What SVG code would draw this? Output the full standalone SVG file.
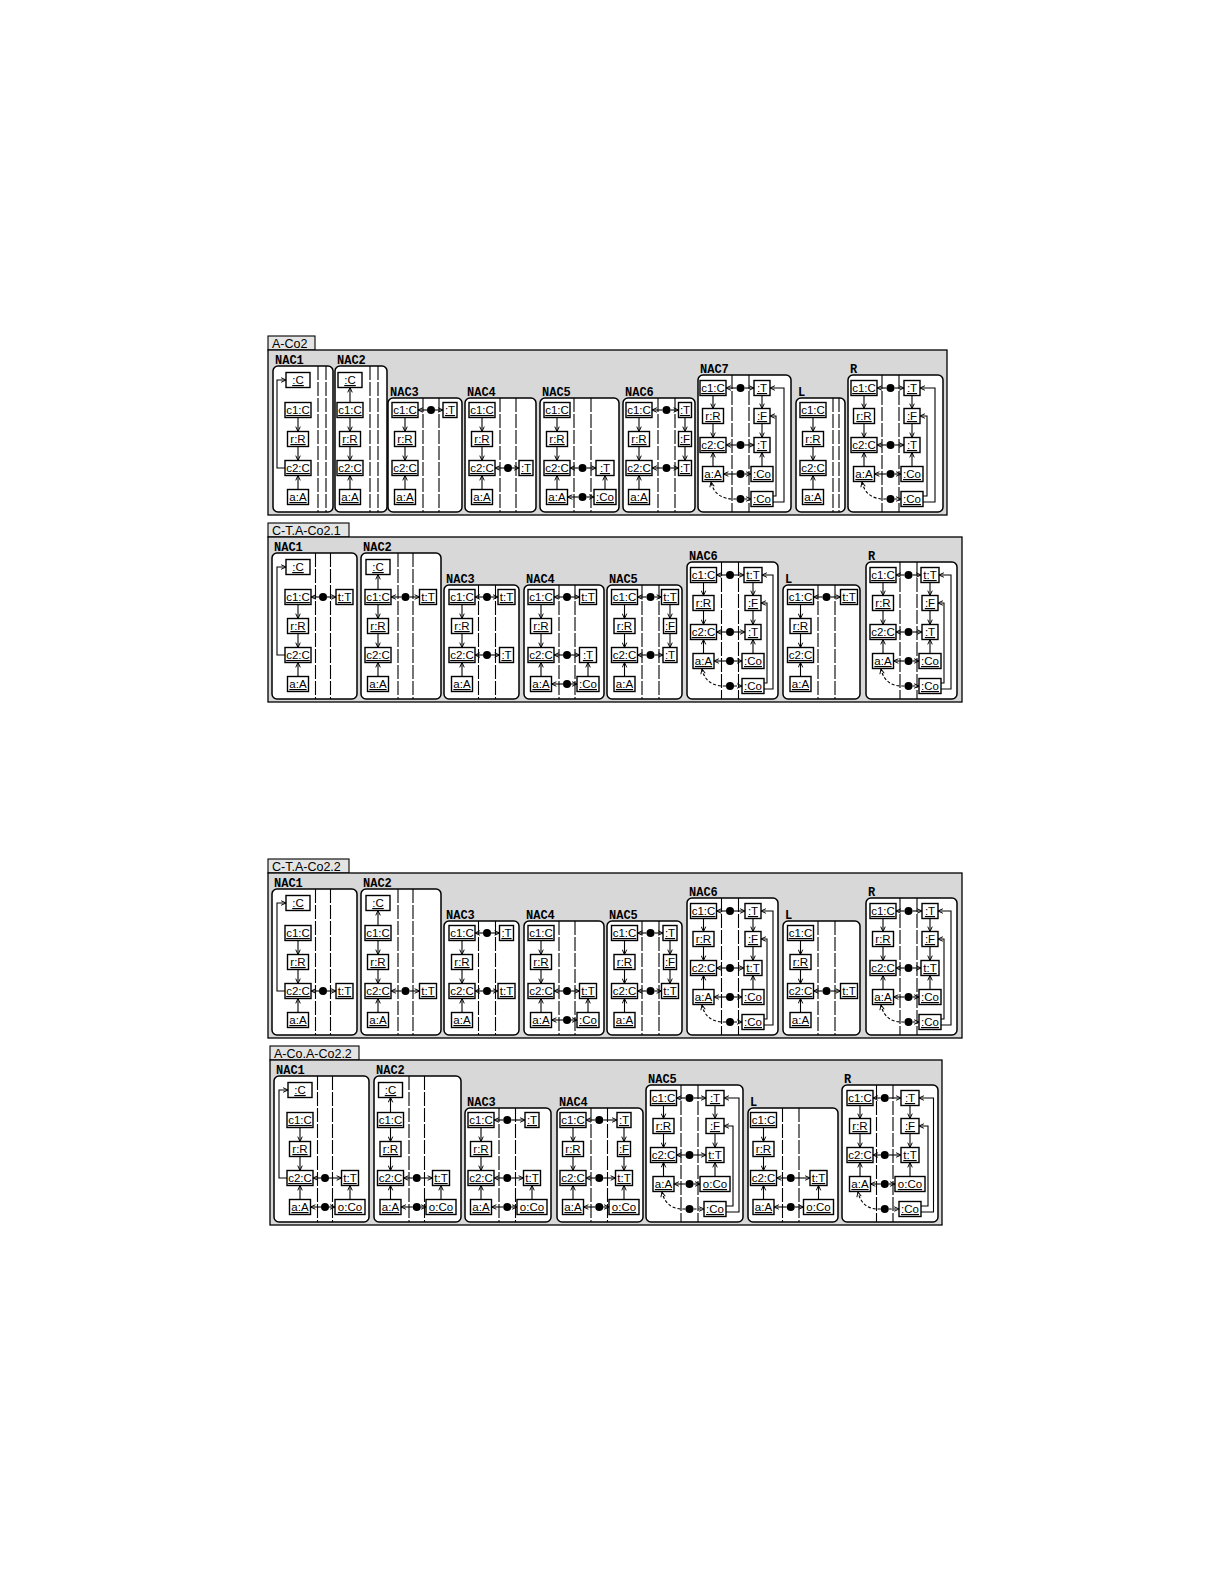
<svg xmlns="http://www.w3.org/2000/svg" width="1225" height="1585" viewBox="0 0 1225 1585">
<defs>
<style>
.fr{fill:#d8d8d8;stroke:#000;stroke-width:1.3}
.tab{fill:#e4e4e4;stroke:#000;stroke-width:1.1}
.tt{font-family:"Liberation Sans",Arial,sans-serif;font-size:12.5px;fill:#000}
.sp{fill:#fff;stroke:#000;stroke-width:1.5}
.lb{font-family:"Liberation Mono","Courier New",monospace;font-weight:bold;font-size:12px;fill:#000}
.cl{fill:none;stroke:#000;stroke-width:1.1;stroke-dasharray:14 2}
.n rect{fill:#fff;stroke:#000;stroke-width:1.4}
.n text{font-family:"Liberation Sans",Arial,sans-serif;font-size:11.5px;text-anchor:middle;text-decoration:underline;fill:#000}
.e{fill:none;stroke:#000;stroke-width:1.1;marker-end:url(#ah)}
.d{fill:none;stroke:#000;stroke-width:1.1;stroke-dasharray:3 2;marker-end:url(#ah)}
.dot{fill:#000}
</style>
<marker id="ah" viewBox="0 0 8 8" refX="7.5" refY="4" markerWidth="6" markerHeight="6" markerUnits="userSpaceOnUse" orient="auto"><path d="M1,1 L7.5,4 L1,7" fill="none" stroke="#000" stroke-width="1.3"/></marker>
</defs>
<rect width="1225" height="1585" fill="#fff"/>

<!-- ================= PANEL 1 : A-Co2 ================= -->
<g id="rule-A-Co2" transform="translate(0,3)">
<g id="p1-frame"><rect class="tab" x="268" y="333" width="47" height="14"/><text class="tt" x="272" y="345">A-Co2</text><rect class="fr" x="268" y="347" width="679" height="165"/></g>

<g id="p1-nac1"><rect class="sp" x="273" y="363" width="60" height="146" rx="5"/><text class="lb" x="275" y="361">NAC1</text><path class="cl" d="M318,363V509M326,363V509"/>
<g id="p1-nac1-C" class="n"><rect x="286" y="369.5" width="24" height="15"/><text x="298" y="381">:C</text></g>
<g id="p1-nac1-c1" class="n"><rect x="285" y="399.5" width="26" height="15"/><text x="298" y="411">c1:C</text></g>
<g id="p1-nac1-r" class="n"><rect x="287.5" y="428.5" width="21" height="15"/><text x="298" y="440">r:R</text></g>
<g id="p1-nac1-c2" class="n"><rect x="285" y="457.5" width="26" height="15"/><text x="298" y="469">c2:C</text></g>
<g id="p1-nac1-a" class="n"><rect x="287.5" y="486.5" width="21" height="15"/><text x="298" y="498">a:A</text></g>
</g>

<g id="p1-nac2"><rect class="sp" x="335" y="363" width="52" height="146" rx="5"/><text class="lb" x="337" y="361">NAC2</text><path class="cl" d="M370,363V509M378,363V509"/>
<g id="p1-nac2-C" class="n"><rect x="338" y="369.5" width="24" height="15"/><text x="350" y="381">:C</text></g>
<g id="p1-nac2-c1" class="n"><rect x="337" y="399.5" width="26" height="15"/><text x="350" y="411">c1:C</text></g>
<g id="p1-nac2-r" class="n"><rect x="339.5" y="428.5" width="21" height="15"/><text x="350" y="440">r:R</text></g>
<g id="p1-nac2-c2" class="n"><rect x="337" y="457.5" width="26" height="15"/><text x="350" y="469">c2:C</text></g>
<g id="p1-nac2-a" class="n"><rect x="339.5" y="486.5" width="21" height="15"/><text x="350" y="498">a:A</text></g>
</g>

<g id="p1-nac3"><rect class="sp" x="388" y="395" width="74" height="114" rx="5"/><text class="lb" x="390" y="393">NAC3</text><path class="cl" d="M423,395V509M439,395V509"/>
<g id="p1-nac3-c1" class="n"><rect x="392" y="399.5" width="26" height="15"/><text x="405" y="411">c1:C</text></g>
<g id="p1-nac3-r" class="n"><rect x="394.5" y="428.5" width="21" height="15"/><text x="405" y="440">r:R</text></g>
<g id="p1-nac3-c2" class="n"><rect x="392" y="457.5" width="26" height="15"/><text x="405" y="469">c2:C</text></g>
<g id="p1-nac3-a" class="n"><rect x="394.5" y="486.5" width="21" height="15"/><text x="405" y="498">a:A</text></g>
<g id="p1-nac3-T" class="n"><rect x="443" y="399.5" width="14" height="15"/><text x="450" y="411">:T</text></g>
</g>

<g id="p1-nac4"><rect class="sp" x="465" y="395" width="71" height="114" rx="5"/><text class="lb" x="467" y="393">NAC4</text><path class="cl" d="M500,395V509M516,395V509"/>
<g id="p1-nac4-c1" class="n"><rect x="469" y="399.5" width="26" height="15"/><text x="482" y="411">c1:C</text></g>
<g id="p1-nac4-r" class="n"><rect x="471.5" y="428.5" width="21" height="15"/><text x="482" y="440">r:R</text></g>
<g id="p1-nac4-c2" class="n"><rect x="469" y="457.5" width="26" height="15"/><text x="482" y="469">c2:C</text></g>
<g id="p1-nac4-a" class="n"><rect x="471.5" y="486.5" width="21" height="15"/><text x="482" y="498">a:A</text></g>
<g id="p1-nac4-T" class="n"><rect x="519" y="457.5" width="14" height="15"/><text x="526" y="469">:T</text></g>
</g>

<g id="p1-nac5"><rect class="sp" x="540" y="395" width="79" height="114" rx="5"/><text class="lb" x="542" y="393">NAC5</text><path class="cl" d="M574,395V509M591,395V509"/>
<g id="p1-nac5-c1" class="n"><rect x="544" y="399.5" width="26" height="15"/><text x="557" y="411">c1:C</text></g>
<g id="p1-nac5-r" class="n"><rect x="546.5" y="428.5" width="21" height="15"/><text x="557" y="440">r:R</text></g>
<g id="p1-nac5-c2" class="n"><rect x="544" y="457.5" width="26" height="15"/><text x="557" y="469">c2:C</text></g>
<g id="p1-nac5-a" class="n"><rect x="546.5" y="486.5" width="21" height="15"/><text x="557" y="498">a:A</text></g>
<g id="p1-nac5-T" class="n"><rect x="596" y="457.5" width="18" height="15"/><text x="605" y="469">:T</text></g>
<g id="p1-nac5-Co" class="n"><rect x="594" y="486.5" width="22" height="15"/><text x="605" y="498">:Co</text></g>
</g>

<g id="p1-nac6"><rect class="sp" x="623" y="395" width="72" height="114" rx="5"/><text class="lb" x="625" y="393">NAC6</text><path class="cl" d="M658,395V509M675,395V509"/>
<g id="p1-nac6-c1" class="n"><rect x="626" y="399.5" width="26" height="15"/><text x="639" y="411">c1:C</text></g>
<g id="p1-nac6-r" class="n"><rect x="628.5" y="428.5" width="21" height="15"/><text x="639" y="440">r:R</text></g>
<g id="p1-nac6-c2" class="n"><rect x="626" y="457.5" width="26" height="15"/><text x="639" y="469">c2:C</text></g>
<g id="p1-nac6-a" class="n"><rect x="628.5" y="486.5" width="21" height="15"/><text x="639" y="498">a:A</text></g>
<g id="p1-nac6-T1" class="n"><rect x="678.5" y="399.5" width="13" height="15"/><text x="685" y="411">:T</text></g>
<g id="p1-nac6-F" class="n"><rect x="678.5" y="428.5" width="13" height="15"/><text x="685" y="440">:F</text></g>
<g id="p1-nac6-T2" class="n"><rect x="678.5" y="457.5" width="13" height="15"/><text x="685" y="469">:T</text></g>
</g>

<g id="p1-nac7"><rect class="sp" x="698" y="372" width="93" height="137" rx="5"/><text class="lb" x="700" y="370">NAC7</text><path class="cl" d="M732,372V509M749,372V509"/>
<g id="p1-nac7-c1" class="n"><rect x="700" y="377.5" width="26" height="15"/><text x="713" y="389">c1:C</text></g>
<g id="p1-nac7-r" class="n"><rect x="702.5" y="405.5" width="21" height="15"/><text x="713" y="417">r:R</text></g>
<g id="p1-nac7-c2" class="n"><rect x="700" y="434.5" width="26" height="15"/><text x="713" y="446">c2:C</text></g>
<g id="p1-nac7-a" class="n"><rect x="702.5" y="463.5" width="21" height="15"/><text x="713" y="475">a:A</text></g>
<g id="p1-nac7-T1" class="n"><rect x="754" y="377.5" width="16" height="15"/><text x="762" y="389">:T</text></g>
<g id="p1-nac7-F" class="n"><rect x="754" y="405.5" width="16" height="15"/><text x="762" y="417">:F</text></g>
<g id="p1-nac7-T2" class="n"><rect x="754" y="434.5" width="16" height="15"/><text x="762" y="446">:T</text></g>
<g id="p1-nac7-Co1" class="n"><rect x="751" y="463.5" width="22" height="15"/><text x="762" y="475">:Co</text></g>
<g id="p1-nac7-Co2" class="n"><rect x="751" y="488.5" width="22" height="15"/><text x="762" y="500">:Co</text></g>
</g>

<g id="p1-L"><rect class="sp" x="796" y="395" width="49" height="114" rx="5"/><text class="lb" x="798" y="393">L</text><path class="cl" d="M833,395V509M839,395V509"/>
<g id="p1-L-c1" class="n"><rect x="800" y="399.5" width="26" height="15"/><text x="813" y="411">c1:C</text></g>
<g id="p1-L-r" class="n"><rect x="802.5" y="428.5" width="21" height="15"/><text x="813" y="440">r:R</text></g>
<g id="p1-L-c2" class="n"><rect x="800" y="457.5" width="26" height="15"/><text x="813" y="469">c2:C</text></g>
<g id="p1-L-a" class="n"><rect x="802.5" y="486.5" width="21" height="15"/><text x="813" y="498">a:A</text></g>
</g>

<g id="p1-R"><rect class="sp" x="848" y="372" width="95" height="137" rx="5"/><text class="lb" x="850" y="370">R</text><path class="cl" d="M882,372V509M899,372V509"/>
<g id="p1-R-c1" class="n"><rect x="851" y="377.5" width="26" height="15"/><text x="864" y="389">c1:C</text></g>
<g id="p1-R-r" class="n"><rect x="853.5" y="405.5" width="21" height="15"/><text x="864" y="417">r:R</text></g>
<g id="p1-R-c2" class="n"><rect x="851" y="434.5" width="26" height="15"/><text x="864" y="446">c2:C</text></g>
<g id="p1-R-a" class="n"><rect x="853.5" y="463.5" width="21" height="15"/><text x="864" y="475">a:A</text></g>
<g id="p1-R-T1" class="n"><rect x="904" y="377.5" width="16" height="15"/><text x="912" y="389">:T</text></g>
<g id="p1-R-F" class="n"><rect x="904" y="405.5" width="16" height="15"/><text x="912" y="417">:F</text></g>
<g id="p1-R-T2" class="n"><rect x="904" y="434.5" width="16" height="15"/><text x="912" y="446">:T</text></g>
<g id="p1-R-Co1" class="n"><rect x="901" y="463.5" width="22" height="15"/><text x="912" y="475">:Co</text></g>
<g id="p1-R-Co2" class="n"><rect x="901" y="488.5" width="22" height="15"/><text x="912" y="500">:Co</text></g>
</g>

<g id="p1-connectors">
<path class="e" d="M298,414.5V428.5"/><path class="e" d="M298,443.5V457.5"/><path class="e" d="M298,486.5V472.5"/><path class="e" d="M285,465H277V377H286"/>
<path class="e" d="M350,399.5V384.5"/><path class="e" d="M350,414.5V428.5"/><path class="e" d="M350,443.5V457.5"/><path class="e" d="M350,486.5V472.5"/>
<path class="e" d="M405,414.5V428.5"/><path class="e" d="M405,443.5V457.5"/><path class="e" d="M405,486.5V472.5"/>
<circle class="dot" cx="431" cy="407" r="4"/><path class="e" d="M427,407H418"/><path class="e" d="M435,407H443"/>
<path class="e" d="M482,414.5V428.5"/><path class="e" d="M482,443.5V457.5"/><path class="e" d="M482,486.5V472.5"/>
<circle class="dot" cx="508" cy="465" r="4"/><path class="e" d="M504,465H495"/><path class="e" d="M512,465H519"/>
<path class="e" d="M557,414.5V428.5"/><path class="e" d="M557,443.5V457.5"/><path class="e" d="M557,486.5V472.5"/><path class="e" d="M605,486.5V472.5"/>
<circle class="dot" cx="582.5" cy="465" r="4"/><path class="e" d="M578.5,465H570"/><path class="e" d="M586.5,465H596"/>
<circle class="dot" cx="582.5" cy="494" r="4"/><path class="e" d="M578.5,494H567.5"/><path class="e" d="M586.5,494H594"/>
<path class="e" d="M639,414.5V428.5"/><path class="e" d="M639,443.5V457.5"/><path class="e" d="M639,486.5V472.5"/>
<path class="e" d="M685,414.5V428.5"/><path class="e" d="M685,443.5V457.5"/>
<circle class="dot" cx="666.5" cy="407" r="4"/><path class="e" d="M662.5,407H652"/><path class="e" d="M670.5,407H678.5"/>
<circle class="dot" cx="666.5" cy="465" r="4"/><path class="e" d="M662.5,465H652"/><path class="e" d="M670.5,465H678.5"/>
<path class="e" d="M713,392.5V405.5"/><path class="e" d="M713,420.5V434.5"/><path class="e" d="M713,463.5V449.5"/>
<path class="e" d="M762,392.5V405.5"/><path class="e" d="M762,420.5V434.5"/><path class="e" d="M762,463.5V449.5"/>
<path class="e" d="M773,493H776V413H770"/><path class="e" d="M773,499H784V385H770"/>
<circle class="dot" cx="740.5" cy="385" r="4"/><path class="e" d="M736.5,385H726"/><path class="e" d="M744.5,385H754"/>
<circle class="dot" cx="740.5" cy="442" r="4"/><path class="e" d="M736.5,442H726"/><path class="e" d="M744.5,442H754"/>
<circle class="dot" cx="740.5" cy="471" r="4"/><path class="e" d="M736.5,471H723.5"/><path class="e" d="M744.5,471H751"/>
<circle class="dot" cx="740.5" cy="496" r="4"/><path class="d" d="M744.5,496H751"/><path class="d" d="M736.5,496Q715,497 711,479"/>
<path class="e" d="M813,414.5V428.5"/><path class="e" d="M813,443.5V457.5"/><path class="e" d="M813,486.5V472.5"/>
<path class="e" d="M864,392.5V405.5"/><path class="e" d="M864,420.5V434.5"/><path class="e" d="M864,463.5V449.5"/>
<path class="e" d="M912,392.5V405.5"/><path class="e" d="M912,420.5V434.5"/><path class="e" d="M912,463.5V449.5"/>
<path class="e" d="M923,493H927V413H920"/><path class="e" d="M923,499H935V385H920"/>
<circle class="dot" cx="890.5" cy="385" r="4"/><path class="e" d="M886.5,385H877"/><path class="e" d="M894.5,385H904"/>
<circle class="dot" cx="890.5" cy="442" r="4"/><path class="e" d="M886.5,442H877"/><path class="e" d="M894.5,442H904"/>
<circle class="dot" cx="890.5" cy="471" r="4"/><path class="e" d="M886.5,471H874.5"/><path class="e" d="M894.5,471H901"/>
<circle class="dot" cx="890.5" cy="496" r="4"/><path class="d" d="M894.5,496H901"/><path class="d" d="M886.5,496Q866,497 862,479"/>
</g>
</g>

<!-- ================= PANEL 2 : C-T.A-Co2.1 ================= -->
<g id="rule-C-T.A-Co2.1" transform="translate(0,190)">
<g id="p2-frame"><rect class="tab" x="268" y="333" width="81" height="14"/><text class="tt" x="272" y="345">C-T.A-Co2.1</text><rect class="fr" x="268" y="347" width="694" height="165"/></g>

<g id="p2-nac1"><rect class="sp" x="272" y="363" width="85" height="146" rx="5"/><text class="lb" x="274" y="361">NAC1</text><path class="cl" d="M315.5,363V509M330.5,363V509"/>
<g id="p2-nac1-C" class="n"><rect x="286" y="369.5" width="24" height="15"/><text x="298" y="381">:C</text></g>
<g id="p2-nac1-c1" class="n"><rect x="285" y="399.5" width="26" height="15"/><text x="298" y="411">c1:C</text></g>
<g id="p2-nac1-r" class="n"><rect x="287.5" y="428.5" width="21" height="15"/><text x="298" y="440">r:R</text></g>
<g id="p2-nac1-c2" class="n"><rect x="285" y="457.5" width="26" height="15"/><text x="298" y="469">c2:C</text></g>
<g id="p2-nac1-a" class="n"><rect x="287.5" y="486.5" width="21" height="15"/><text x="298" y="498">a:A</text></g>
<g id="p2-nac1-tT" class="n"><rect x="336" y="399.5" width="17" height="15"/><text x="344.5" y="411">t:T</text></g>
</g>

<g id="p2-nac2"><rect class="sp" x="361" y="363" width="80" height="146" rx="5"/><text class="lb" x="363" y="361">NAC2</text><path class="cl" d="M398,363V509M413,363V509"/>
<g id="p2-nac2-C" class="n"><rect x="366" y="369.5" width="24" height="15"/><text x="378" y="381">:C</text></g>
<g id="p2-nac2-c1" class="n"><rect x="365" y="399.5" width="26" height="15"/><text x="378" y="411">c1:C</text></g>
<g id="p2-nac2-r" class="n"><rect x="367.5" y="428.5" width="21" height="15"/><text x="378" y="440">r:R</text></g>
<g id="p2-nac2-c2" class="n"><rect x="365" y="457.5" width="26" height="15"/><text x="378" y="469">c2:C</text></g>
<g id="p2-nac2-a" class="n"><rect x="367.5" y="486.5" width="21" height="15"/><text x="378" y="498">a:A</text></g>
<g id="p2-nac2-tT" class="n"><rect x="419.5" y="399.5" width="17" height="15"/><text x="428" y="411">t:T</text></g>
</g>

<g id="p2-nac3"><rect class="sp" x="444" y="395" width="75" height="114" rx="5"/><text class="lb" x="446" y="393">NAC3</text><path class="cl" d="M478.5,395V509M495.5,395V509"/>
<g id="p2-nac3-c1" class="n"><rect x="449" y="399.5" width="26" height="15"/><text x="462" y="411">c1:C</text></g>
<g id="p2-nac3-r" class="n"><rect x="451.5" y="428.5" width="21" height="15"/><text x="462" y="440">r:R</text></g>
<g id="p2-nac3-c2" class="n"><rect x="449" y="457.5" width="26" height="15"/><text x="462" y="469">c2:C</text></g>
<g id="p2-nac3-a" class="n"><rect x="451.5" y="486.5" width="21" height="15"/><text x="462" y="498">a:A</text></g>
<g id="p2-nac3-tT" class="n"><rect x="498" y="399.5" width="17" height="15"/><text x="506.5" y="411">t:T</text></g>
<g id="p2-nac3-T" class="n"><rect x="499.5" y="457.5" width="14" height="15"/><text x="506.5" y="469">:T</text></g>
</g>

<g id="p2-nac4"><rect class="sp" x="524" y="395" width="80" height="114" rx="5"/><text class="lb" x="526" y="393">NAC4</text><path class="cl" d="M559,395V509M575,395V509"/>
<g id="p2-nac4-c1" class="n"><rect x="528" y="399.5" width="26" height="15"/><text x="541" y="411">c1:C</text></g>
<g id="p2-nac4-r" class="n"><rect x="530.5" y="428.5" width="21" height="15"/><text x="541" y="440">r:R</text></g>
<g id="p2-nac4-c2" class="n"><rect x="528" y="457.5" width="26" height="15"/><text x="541" y="469">c2:C</text></g>
<g id="p2-nac4-a" class="n"><rect x="530.5" y="486.5" width="21" height="15"/><text x="541" y="498">a:A</text></g>
<g id="p2-nac4-tT" class="n"><rect x="579.5" y="399.5" width="17" height="15"/><text x="588" y="411">t:T</text></g>
<g id="p2-nac4-T" class="n"><rect x="579.5" y="457.5" width="17" height="15"/><text x="588" y="469">:T</text></g>
<g id="p2-nac4-Co" class="n"><rect x="577" y="486.5" width="22" height="15"/><text x="588" y="498">:Co</text></g>
</g>

<g id="p2-nac5"><rect class="sp" x="607" y="395" width="75" height="114" rx="5"/><text class="lb" x="609" y="393">NAC5</text><path class="cl" d="M642,395V509M659,395V509"/>
<g id="p2-nac5-c1" class="n"><rect x="611.5" y="399.5" width="26" height="15"/><text x="624.5" y="411">c1:C</text></g>
<g id="p2-nac5-r" class="n"><rect x="614" y="428.5" width="21" height="15"/><text x="624.5" y="440">r:R</text></g>
<g id="p2-nac5-c2" class="n"><rect x="611.5" y="457.5" width="26" height="15"/><text x="624.5" y="469">c2:C</text></g>
<g id="p2-nac5-a" class="n"><rect x="614" y="486.5" width="21" height="15"/><text x="624.5" y="498">a:A</text></g>
<g id="p2-nac5-tT" class="n"><rect x="661.5" y="399.5" width="17" height="15"/><text x="670" y="411">t:T</text></g>
<g id="p2-nac5-F" class="n"><rect x="663.5" y="428.5" width="13" height="15"/><text x="670" y="440">:F</text></g>
<g id="p2-nac5-T" class="n"><rect x="663" y="457.5" width="14" height="15"/><text x="670" y="469">:T</text></g>
</g>

<g id="p2-nac6"><rect class="sp" x="687" y="372" width="91" height="137" rx="5"/><text class="lb" x="689" y="370">NAC6</text><path class="cl" d="M721.5,372V509M738.5,372V509"/>
<g id="p2-nac6-c1" class="n"><rect x="690.5" y="377.5" width="26" height="15"/><text x="703.5" y="389">c1:C</text></g>
<g id="p2-nac6-r" class="n"><rect x="693" y="405.5" width="21" height="15"/><text x="703.5" y="417">r:R</text></g>
<g id="p2-nac6-c2" class="n"><rect x="690.5" y="434.5" width="26" height="15"/><text x="703.5" y="446">c2:C</text></g>
<g id="p2-nac6-a" class="n"><rect x="693" y="463.5" width="21" height="15"/><text x="703.5" y="475">a:A</text></g>
<g id="p2-nac6-tT" class="n"><rect x="744" y="377.5" width="18" height="15"/><text x="753" y="389">t:T</text></g>
<g id="p2-nac6-F" class="n"><rect x="745" y="405.5" width="16" height="15"/><text x="753" y="417">:F</text></g>
<g id="p2-nac6-T" class="n"><rect x="745" y="434.5" width="16" height="15"/><text x="753" y="446">:T</text></g>
<g id="p2-nac6-Co1" class="n"><rect x="742" y="463.5" width="22" height="15"/><text x="753" y="475">:Co</text></g>
<g id="p2-nac6-Co2" class="n"><rect x="742" y="488.5" width="22" height="15"/><text x="753" y="500">:Co</text></g>
</g>

<g id="p2-L"><rect class="sp" x="783" y="395" width="77" height="114" rx="5"/><text class="lb" x="785" y="393">L</text><path class="cl" d="M818,395V509M835,395V509"/>
<g id="p2-L-c1" class="n"><rect x="787.5" y="399.5" width="26" height="15"/><text x="800.5" y="411">c1:C</text></g>
<g id="p2-L-r" class="n"><rect x="790" y="428.5" width="21" height="15"/><text x="800.5" y="440">r:R</text></g>
<g id="p2-L-c2" class="n"><rect x="787.5" y="457.5" width="26" height="15"/><text x="800.5" y="469">c2:C</text></g>
<g id="p2-L-a" class="n"><rect x="790" y="486.5" width="21" height="15"/><text x="800.5" y="498">a:A</text></g>
<g id="p2-L-tT" class="n"><rect x="840.5" y="399.5" width="17" height="15"/><text x="849" y="411">t:T</text></g>
</g>

<g id="p2-R"><rect class="sp" x="866" y="372" width="91" height="137" rx="5"/><text class="lb" x="868" y="370">R</text><path class="cl" d="M900,372V509M917,372V509"/>
<g id="p2-R-c1" class="n"><rect x="870" y="377.5" width="26" height="15"/><text x="883" y="389">c1:C</text></g>
<g id="p2-R-r" class="n"><rect x="872.5" y="405.5" width="21" height="15"/><text x="883" y="417">r:R</text></g>
<g id="p2-R-c2" class="n"><rect x="870" y="434.5" width="26" height="15"/><text x="883" y="446">c2:C</text></g>
<g id="p2-R-a" class="n"><rect x="872.5" y="463.5" width="21" height="15"/><text x="883" y="475">a:A</text></g>
<g id="p2-R-tT" class="n"><rect x="921" y="377.5" width="18" height="15"/><text x="930" y="389">t:T</text></g>
<g id="p2-R-F" class="n"><rect x="922" y="405.5" width="16" height="15"/><text x="930" y="417">:F</text></g>
<g id="p2-R-T" class="n"><rect x="922" y="434.5" width="16" height="15"/><text x="930" y="446">:T</text></g>
<g id="p2-R-Co1" class="n"><rect x="919" y="463.5" width="22" height="15"/><text x="930" y="475">:Co</text></g>
<g id="p2-R-Co2" class="n"><rect x="919" y="488.5" width="22" height="15"/><text x="930" y="500">:Co</text></g>
</g>

<g id="p2-connectors">
<path class="e" d="M298,414.5V428.5"/><path class="e" d="M298,443.5V457.5"/><path class="e" d="M298,486.5V472.5"/><path class="e" d="M285,465H277V377H286"/>
<circle class="dot" cx="323" cy="407" r="4"/><path class="e" d="M319,407H311"/><path class="e" d="M327,407H336"/>
<path class="e" d="M378,399.5V384.5"/><path class="e" d="M378,414.5V428.5"/><path class="e" d="M378,443.5V457.5"/><path class="e" d="M378,486.5V472.5"/>
<circle class="dot" cx="405.5" cy="407" r="4"/><path class="e" d="M401.5,407H391"/><path class="e" d="M409.5,407H419.5"/>
<path class="e" d="M462,414.5V428.5"/><path class="e" d="M462,443.5V457.5"/><path class="e" d="M462,486.5V472.5"/>
<circle class="dot" cx="487" cy="407" r="4"/><path class="e" d="M483,407H475"/><path class="e" d="M491,407H498"/>
<circle class="dot" cx="487" cy="465" r="4"/><path class="e" d="M483,465H475"/><path class="e" d="M491,465H499.5"/>
<path class="e" d="M541,414.5V428.5"/><path class="e" d="M541,443.5V457.5"/><path class="e" d="M541,486.5V472.5"/><path class="e" d="M588,486.5V472.5"/>
<circle class="dot" cx="567" cy="407" r="4"/><path class="e" d="M563,407H554"/><path class="e" d="M571,407H579.5"/>
<circle class="dot" cx="567" cy="465" r="4"/><path class="e" d="M563,465H554"/><path class="e" d="M571,465H579.5"/>
<circle class="dot" cx="567" cy="494" r="4"/><path class="e" d="M563,494H551.5"/><path class="e" d="M571,494H577"/>
<path class="e" d="M624.5,414.5V428.5"/><path class="e" d="M624.5,443.5V457.5"/><path class="e" d="M624.5,486.5V472.5"/>
<path class="e" d="M670,414.5V428.5"/><path class="e" d="M670,443.5V457.5"/>
<circle class="dot" cx="650.5" cy="407" r="4"/><path class="e" d="M646.5,407H637.5"/><path class="e" d="M654.5,407H661.5"/>
<circle class="dot" cx="650.5" cy="465" r="4"/><path class="e" d="M646.5,465H637.5"/><path class="e" d="M654.5,465H663"/>
<path class="e" d="M703.5,392.5V405.5"/><path class="e" d="M703.5,420.5V434.5"/><path class="e" d="M703.5,463.5V449.5"/>
<path class="e" d="M753,392.5V405.5"/><path class="e" d="M753,420.5V434.5"/><path class="e" d="M753,463.5V449.5"/>
<path class="e" d="M764,493H767V413H761"/><path class="e" d="M764,499H773V385H762"/>
<circle class="dot" cx="730" cy="385" r="4"/><path class="e" d="M726,385H716.5"/><path class="e" d="M734,385H744"/>
<circle class="dot" cx="730" cy="442" r="4"/><path class="e" d="M726,442H716.5"/><path class="e" d="M734,442H745"/>
<circle class="dot" cx="730" cy="471" r="4"/><path class="e" d="M726,471H714"/><path class="e" d="M734,471H742"/>
<circle class="dot" cx="730" cy="496" r="4"/><path class="d" d="M734,496H742"/><path class="d" d="M726,496Q706,497 702,479"/>
<path class="e" d="M800.5,414.5V428.5"/><path class="e" d="M800.5,443.5V457.5"/><path class="e" d="M800.5,486.5V472.5"/>
<circle class="dot" cx="826.5" cy="407" r="4"/><path class="e" d="M822.5,407H813.5"/><path class="e" d="M830.5,407H840.5"/>
<path class="e" d="M883,392.5V405.5"/><path class="e" d="M883,420.5V434.5"/><path class="e" d="M883,463.5V449.5"/>
<path class="e" d="M930,392.5V405.5"/><path class="e" d="M930,420.5V434.5"/><path class="e" d="M930,463.5V449.5"/>
<path class="e" d="M941,493H944V413H938"/><path class="e" d="M941,499H951V385H939"/>
<circle class="dot" cx="908.5" cy="385" r="4"/><path class="e" d="M904.5,385H896"/><path class="e" d="M912.5,385H921"/>
<circle class="dot" cx="908.5" cy="442" r="4"/><path class="e" d="M904.5,442H896"/><path class="e" d="M912.5,442H922"/>
<circle class="dot" cx="908.5" cy="471" r="4"/><path class="e" d="M904.5,471H893.5"/><path class="e" d="M912.5,471H919"/>
<circle class="dot" cx="908.5" cy="496" r="4"/><path class="d" d="M912.5,496H919"/><path class="d" d="M904.5,496Q885,497 881,479"/>
</g>
</g>

<!-- ================= PANEL 3 : C-T.A-Co2.2 ================= -->
<g id="rule-C-T.A-Co2.2" transform="translate(0,526)">
<g id="p3-frame"><rect class="tab" x="268" y="333" width="81" height="14"/><text class="tt" x="272" y="345">C-T.A-Co2.2</text><rect class="fr" x="268" y="347" width="694" height="165"/></g>

<g id="p3-nac1"><rect class="sp" x="272" y="363" width="85" height="146" rx="5"/><text class="lb" x="274" y="361">NAC1</text><path class="cl" d="M315.5,363V509M330.5,363V509"/>
<g id="p3-nac1-C" class="n"><rect x="286" y="369.5" width="24" height="15"/><text x="298" y="381">:C</text></g>
<g id="p3-nac1-c1" class="n"><rect x="285" y="399.5" width="26" height="15"/><text x="298" y="411">c1:C</text></g>
<g id="p3-nac1-r" class="n"><rect x="287.5" y="428.5" width="21" height="15"/><text x="298" y="440">r:R</text></g>
<g id="p3-nac1-c2" class="n"><rect x="285" y="457.5" width="26" height="15"/><text x="298" y="469">c2:C</text></g>
<g id="p3-nac1-a" class="n"><rect x="287.5" y="486.5" width="21" height="15"/><text x="298" y="498">a:A</text></g>
<g id="p3-nac1-tT" class="n"><rect x="336" y="457.5" width="17" height="15"/><text x="344.5" y="469">t:T</text></g>
</g>

<g id="p3-nac2"><rect class="sp" x="361" y="363" width="80" height="146" rx="5"/><text class="lb" x="363" y="361">NAC2</text><path class="cl" d="M398,363V509M413,363V509"/>
<g id="p3-nac2-C" class="n"><rect x="366" y="369.5" width="24" height="15"/><text x="378" y="381">:C</text></g>
<g id="p3-nac2-c1" class="n"><rect x="365" y="399.5" width="26" height="15"/><text x="378" y="411">c1:C</text></g>
<g id="p3-nac2-r" class="n"><rect x="367.5" y="428.5" width="21" height="15"/><text x="378" y="440">r:R</text></g>
<g id="p3-nac2-c2" class="n"><rect x="365" y="457.5" width="26" height="15"/><text x="378" y="469">c2:C</text></g>
<g id="p3-nac2-a" class="n"><rect x="367.5" y="486.5" width="21" height="15"/><text x="378" y="498">a:A</text></g>
<g id="p3-nac2-tT" class="n"><rect x="419.5" y="457.5" width="17" height="15"/><text x="428" y="469">t:T</text></g>
</g>

<g id="p3-nac3"><rect class="sp" x="444" y="395" width="75" height="114" rx="5"/><text class="lb" x="446" y="393">NAC3</text><path class="cl" d="M478.5,395V509M495.5,395V509"/>
<g id="p3-nac3-c1" class="n"><rect x="449" y="399.5" width="26" height="15"/><text x="462" y="411">c1:C</text></g>
<g id="p3-nac3-r" class="n"><rect x="451.5" y="428.5" width="21" height="15"/><text x="462" y="440">r:R</text></g>
<g id="p3-nac3-c2" class="n"><rect x="449" y="457.5" width="26" height="15"/><text x="462" y="469">c2:C</text></g>
<g id="p3-nac3-a" class="n"><rect x="451.5" y="486.5" width="21" height="15"/><text x="462" y="498">a:A</text></g>
<g id="p3-nac3-T" class="n"><rect x="499.5" y="399.5" width="14" height="15"/><text x="506.5" y="411">:T</text></g>
<g id="p3-nac3-tT" class="n"><rect x="498" y="457.5" width="17" height="15"/><text x="506.5" y="469">t:T</text></g>
</g>

<g id="p3-nac4"><rect class="sp" x="524" y="395" width="80" height="114" rx="5"/><text class="lb" x="526" y="393">NAC4</text><path class="cl" d="M559,395V509M575,395V509"/>
<g id="p3-nac4-c1" class="n"><rect x="528" y="399.5" width="26" height="15"/><text x="541" y="411">c1:C</text></g>
<g id="p3-nac4-r" class="n"><rect x="530.5" y="428.5" width="21" height="15"/><text x="541" y="440">r:R</text></g>
<g id="p3-nac4-c2" class="n"><rect x="528" y="457.5" width="26" height="15"/><text x="541" y="469">c2:C</text></g>
<g id="p3-nac4-a" class="n"><rect x="530.5" y="486.5" width="21" height="15"/><text x="541" y="498">a:A</text></g>
<g id="p3-nac4-tT" class="n"><rect x="579.5" y="457.5" width="17" height="15"/><text x="588" y="469">t:T</text></g>
<g id="p3-nac4-Co" class="n"><rect x="577" y="486.5" width="22" height="15"/><text x="588" y="498">:Co</text></g>
</g>

<g id="p3-nac5"><rect class="sp" x="607" y="395" width="75" height="114" rx="5"/><text class="lb" x="609" y="393">NAC5</text><path class="cl" d="M642,395V509M659,395V509"/>
<g id="p3-nac5-c1" class="n"><rect x="611.5" y="399.5" width="26" height="15"/><text x="624.5" y="411">c1:C</text></g>
<g id="p3-nac5-r" class="n"><rect x="614" y="428.5" width="21" height="15"/><text x="624.5" y="440">r:R</text></g>
<g id="p3-nac5-c2" class="n"><rect x="611.5" y="457.5" width="26" height="15"/><text x="624.5" y="469">c2:C</text></g>
<g id="p3-nac5-a" class="n"><rect x="614" y="486.5" width="21" height="15"/><text x="624.5" y="498">a:A</text></g>
<g id="p3-nac5-T" class="n"><rect x="663" y="399.5" width="14" height="15"/><text x="670" y="411">:T</text></g>
<g id="p3-nac5-F" class="n"><rect x="663.5" y="428.5" width="13" height="15"/><text x="670" y="440">:F</text></g>
<g id="p3-nac5-tT" class="n"><rect x="661.5" y="457.5" width="17" height="15"/><text x="670" y="469">t:T</text></g>
</g>

<g id="p3-nac6"><rect class="sp" x="687" y="372" width="91" height="137" rx="5"/><text class="lb" x="689" y="370">NAC6</text><path class="cl" d="M721.5,372V509M738.5,372V509"/>
<g id="p3-nac6-c1" class="n"><rect x="690.5" y="377.5" width="26" height="15"/><text x="703.5" y="389">c1:C</text></g>
<g id="p3-nac6-r" class="n"><rect x="693" y="405.5" width="21" height="15"/><text x="703.5" y="417">r:R</text></g>
<g id="p3-nac6-c2" class="n"><rect x="690.5" y="434.5" width="26" height="15"/><text x="703.5" y="446">c2:C</text></g>
<g id="p3-nac6-a" class="n"><rect x="693" y="463.5" width="21" height="15"/><text x="703.5" y="475">a:A</text></g>
<g id="p3-nac6-T" class="n"><rect x="745" y="377.5" width="16" height="15"/><text x="753" y="389">:T</text></g>
<g id="p3-nac6-F" class="n"><rect x="745" y="405.5" width="16" height="15"/><text x="753" y="417">:F</text></g>
<g id="p3-nac6-tT" class="n"><rect x="744" y="434.5" width="18" height="15"/><text x="753" y="446">t:T</text></g>
<g id="p3-nac6-Co1" class="n"><rect x="742" y="463.5" width="22" height="15"/><text x="753" y="475">:Co</text></g>
<g id="p3-nac6-Co2" class="n"><rect x="742" y="488.5" width="22" height="15"/><text x="753" y="500">:Co</text></g>
</g>

<g id="p3-L"><rect class="sp" x="783" y="395" width="77" height="114" rx="5"/><text class="lb" x="785" y="393">L</text><path class="cl" d="M818,395V509M835,395V509"/>
<g id="p3-L-c1" class="n"><rect x="787.5" y="399.5" width="26" height="15"/><text x="800.5" y="411">c1:C</text></g>
<g id="p3-L-r" class="n"><rect x="790" y="428.5" width="21" height="15"/><text x="800.5" y="440">r:R</text></g>
<g id="p3-L-c2" class="n"><rect x="787.5" y="457.5" width="26" height="15"/><text x="800.5" y="469">c2:C</text></g>
<g id="p3-L-a" class="n"><rect x="790" y="486.5" width="21" height="15"/><text x="800.5" y="498">a:A</text></g>
<g id="p3-L-tT" class="n"><rect x="840.5" y="457.5" width="17" height="15"/><text x="849" y="469">t:T</text></g>
</g>

<g id="p3-R"><rect class="sp" x="866" y="372" width="91" height="137" rx="5"/><text class="lb" x="868" y="370">R</text><path class="cl" d="M900,372V509M917,372V509"/>
<g id="p3-R-c1" class="n"><rect x="870" y="377.5" width="26" height="15"/><text x="883" y="389">c1:C</text></g>
<g id="p3-R-r" class="n"><rect x="872.5" y="405.5" width="21" height="15"/><text x="883" y="417">r:R</text></g>
<g id="p3-R-c2" class="n"><rect x="870" y="434.5" width="26" height="15"/><text x="883" y="446">c2:C</text></g>
<g id="p3-R-a" class="n"><rect x="872.5" y="463.5" width="21" height="15"/><text x="883" y="475">a:A</text></g>
<g id="p3-R-T" class="n"><rect x="922" y="377.5" width="16" height="15"/><text x="930" y="389">:T</text></g>
<g id="p3-R-F" class="n"><rect x="922" y="405.5" width="16" height="15"/><text x="930" y="417">:F</text></g>
<g id="p3-R-tT" class="n"><rect x="921" y="434.5" width="18" height="15"/><text x="930" y="446">t:T</text></g>
<g id="p3-R-Co1" class="n"><rect x="919" y="463.5" width="22" height="15"/><text x="930" y="475">:Co</text></g>
<g id="p3-R-Co2" class="n"><rect x="919" y="488.5" width="22" height="15"/><text x="930" y="500">:Co</text></g>
</g>

<g id="p3-connectors">
<path class="e" d="M298,414.5V428.5"/><path class="e" d="M298,443.5V457.5"/><path class="e" d="M298,486.5V472.5"/><path class="e" d="M285,465H277V377H286"/>
<circle class="dot" cx="323" cy="465" r="4"/><path class="e" d="M319,465H311"/><path class="e" d="M327,465H336"/>
<path class="e" d="M378,399.5V384.5"/><path class="e" d="M378,414.5V428.5"/><path class="e" d="M378,443.5V457.5"/><path class="e" d="M378,486.5V472.5"/>
<circle class="dot" cx="405.5" cy="465" r="4"/><path class="e" d="M401.5,465H391"/><path class="e" d="M409.5,465H419.5"/>
<path class="e" d="M462,414.5V428.5"/><path class="e" d="M462,443.5V457.5"/><path class="e" d="M462,486.5V472.5"/>
<circle class="dot" cx="487" cy="407" r="4"/><path class="e" d="M483,407H475"/><path class="e" d="M491,407H499.5"/>
<circle class="dot" cx="487" cy="465" r="4"/><path class="e" d="M483,465H475"/><path class="e" d="M491,465H498"/>
<path class="e" d="M541,414.5V428.5"/><path class="e" d="M541,443.5V457.5"/><path class="e" d="M541,486.5V472.5"/><path class="e" d="M588,486.5V472.5"/>
<circle class="dot" cx="567" cy="465" r="4"/><path class="e" d="M563,465H554"/><path class="e" d="M571,465H579.5"/>
<circle class="dot" cx="567" cy="494" r="4"/><path class="e" d="M563,494H551.5"/><path class="e" d="M571,494H577"/>
<path class="e" d="M624.5,414.5V428.5"/><path class="e" d="M624.5,443.5V457.5"/><path class="e" d="M624.5,486.5V472.5"/>
<path class="e" d="M670,414.5V428.5"/><path class="e" d="M670,443.5V457.5"/>
<circle class="dot" cx="650.5" cy="407" r="4"/><path class="e" d="M646.5,407H637.5"/><path class="e" d="M654.5,407H663"/>
<circle class="dot" cx="650.5" cy="465" r="4"/><path class="e" d="M646.5,465H637.5"/><path class="e" d="M654.5,465H661.5"/>
<path class="e" d="M703.5,392.5V405.5"/><path class="e" d="M703.5,420.5V434.5"/><path class="e" d="M703.5,463.5V449.5"/>
<path class="e" d="M753,392.5V405.5"/><path class="e" d="M753,420.5V434.5"/><path class="e" d="M753,463.5V449.5"/>
<path class="e" d="M764,493H767V413H761"/><path class="e" d="M764,499H773V385H761"/>
<circle class="dot" cx="730" cy="385" r="4"/><path class="e" d="M726,385H716.5"/><path class="e" d="M734,385H745"/>
<circle class="dot" cx="730" cy="442" r="4"/><path class="e" d="M726,442H716.5"/><path class="e" d="M734,442H744"/>
<circle class="dot" cx="730" cy="471" r="4"/><path class="e" d="M726,471H714"/><path class="e" d="M734,471H742"/>
<circle class="dot" cx="730" cy="496" r="4"/><path class="d" d="M734,496H742"/><path class="d" d="M726,496Q706,497 702,479"/>
<path class="e" d="M800.5,414.5V428.5"/><path class="e" d="M800.5,443.5V457.5"/><path class="e" d="M800.5,486.5V472.5"/>
<circle class="dot" cx="826.5" cy="465" r="4"/><path class="e" d="M822.5,465H813.5"/><path class="e" d="M830.5,465H840.5"/>
<path class="e" d="M883,392.5V405.5"/><path class="e" d="M883,420.5V434.5"/><path class="e" d="M883,463.5V449.5"/>
<path class="e" d="M930,392.5V405.5"/><path class="e" d="M930,420.5V434.5"/><path class="e" d="M930,463.5V449.5"/>
<path class="e" d="M941,493H944V413H938"/><path class="e" d="M941,499H951V385H938"/>
<circle class="dot" cx="908.5" cy="385" r="4"/><path class="e" d="M904.5,385H896"/><path class="e" d="M912.5,385H922"/>
<circle class="dot" cx="908.5" cy="442" r="4"/><path class="e" d="M904.5,442H896"/><path class="e" d="M912.5,442H921"/>
<circle class="dot" cx="908.5" cy="471" r="4"/><path class="e" d="M904.5,471H893.5"/><path class="e" d="M912.5,471H919"/>
<circle class="dot" cx="908.5" cy="496" r="4"/><path class="d" d="M912.5,496H919"/><path class="d" d="M904.5,496Q885,497 881,479"/>
</g>
</g>

<!-- ================= PANEL 4 : A-Co.A-Co2.2 ================= -->
<g id="rule-A-Co.A-Co2.2" transform="translate(0,713)">
<g id="p4-frame"><rect class="tab" x="270" y="333" width="89" height="14"/><text class="tt" x="274" y="345">A-Co.A-Co2.2</text><rect class="fr" x="270" y="347" width="672" height="165"/></g>

<g id="p4-nac1"><rect class="sp" x="274" y="363" width="95" height="146" rx="5"/><text class="lb" x="276" y="361">NAC1</text><path class="cl" d="M317.5,363V509M332.5,363V509"/>
<g id="p4-nac1-C" class="n"><rect x="288" y="369.5" width="24" height="15"/><text x="300" y="381">:C</text></g>
<g id="p4-nac1-c1" class="n"><rect x="287" y="399.5" width="26" height="15"/><text x="300" y="411">c1:C</text></g>
<g id="p4-nac1-r" class="n"><rect x="289.5" y="428.5" width="21" height="15"/><text x="300" y="440">r:R</text></g>
<g id="p4-nac1-c2" class="n"><rect x="287" y="457.5" width="26" height="15"/><text x="300" y="469">c2:C</text></g>
<g id="p4-nac1-a" class="n"><rect x="289.5" y="486.5" width="21" height="15"/><text x="300" y="498">a:A</text></g>
<g id="p4-nac1-tT" class="n"><rect x="341.5" y="457.5" width="17" height="15"/><text x="350" y="469">t:T</text></g>
<g id="p4-nac1-oCo" class="n"><rect x="335" y="486.5" width="30" height="15"/><text x="350" y="498">o:Co</text></g>
</g>

<g id="p4-nac2"><rect class="sp" x="374" y="363" width="87" height="146" rx="5"/><text class="lb" x="376" y="361">NAC2</text><path class="cl" d="M409,363V509M424.5,363V509"/>
<g id="p4-nac2-C" class="n"><rect x="378.5" y="369.5" width="24" height="15"/><text x="390.5" y="381">:C</text></g>
<g id="p4-nac2-c1" class="n"><rect x="377.5" y="399.5" width="26" height="15"/><text x="390.5" y="411">c1:C</text></g>
<g id="p4-nac2-r" class="n"><rect x="380" y="428.5" width="21" height="15"/><text x="390.5" y="440">r:R</text></g>
<g id="p4-nac2-c2" class="n"><rect x="377.5" y="457.5" width="26" height="15"/><text x="390.5" y="469">c2:C</text></g>
<g id="p4-nac2-a" class="n"><rect x="380" y="486.5" width="21" height="15"/><text x="390.5" y="498">a:A</text></g>
<g id="p4-nac2-tT" class="n"><rect x="432.5" y="457.5" width="17" height="15"/><text x="441" y="469">t:T</text></g>
<g id="p4-nac2-oCo" class="n"><rect x="426" y="486.5" width="30" height="15"/><text x="441" y="498">o:Co</text></g>
</g>

<g id="p4-nac3"><rect class="sp" x="465" y="395" width="86" height="114" rx="5"/><text class="lb" x="467" y="393">NAC3</text><path class="cl" d="M499,395V509M515.5,395V509"/>
<g id="p4-nac3-c1" class="n"><rect x="468" y="399.5" width="26" height="15"/><text x="481" y="411">c1:C</text></g>
<g id="p4-nac3-r" class="n"><rect x="470.5" y="428.5" width="21" height="15"/><text x="481" y="440">r:R</text></g>
<g id="p4-nac3-c2" class="n"><rect x="468" y="457.5" width="26" height="15"/><text x="481" y="469">c2:C</text></g>
<g id="p4-nac3-a" class="n"><rect x="470.5" y="486.5" width="21" height="15"/><text x="481" y="498">a:A</text></g>
<g id="p4-nac3-T" class="n"><rect x="525" y="399.5" width="14" height="15"/><text x="532" y="411">:T</text></g>
<g id="p4-nac3-tT" class="n"><rect x="523.5" y="457.5" width="17" height="15"/><text x="532" y="469">t:T</text></g>
<g id="p4-nac3-oCo" class="n"><rect x="517" y="486.5" width="30" height="15"/><text x="532" y="498">o:Co</text></g>
</g>

<g id="p4-nac4"><rect class="sp" x="557" y="395" width="86" height="114" rx="5"/><text class="lb" x="559" y="393">NAC4</text><path class="cl" d="M591,395V509M607.5,395V509"/>
<g id="p4-nac4-c1" class="n"><rect x="560" y="399.5" width="26" height="15"/><text x="573" y="411">c1:C</text></g>
<g id="p4-nac4-r" class="n"><rect x="562.5" y="428.5" width="21" height="15"/><text x="573" y="440">r:R</text></g>
<g id="p4-nac4-c2" class="n"><rect x="560" y="457.5" width="26" height="15"/><text x="573" y="469">c2:C</text></g>
<g id="p4-nac4-a" class="n"><rect x="562.5" y="486.5" width="21" height="15"/><text x="573" y="498">a:A</text></g>
<g id="p4-nac4-T" class="n"><rect x="617" y="399.5" width="14" height="15"/><text x="624" y="411">:T</text></g>
<g id="p4-nac4-F" class="n"><rect x="617.5" y="428.5" width="13" height="15"/><text x="624" y="440">:F</text></g>
<g id="p4-nac4-tT" class="n"><rect x="615.5" y="457.5" width="17" height="15"/><text x="624" y="469">t:T</text></g>
<g id="p4-nac4-oCo" class="n"><rect x="609" y="486.5" width="30" height="15"/><text x="624" y="498">o:Co</text></g>
</g>

<g id="p4-nac5"><rect class="sp" x="646" y="372" width="97" height="137" rx="5"/><text class="lb" x="648" y="370">NAC5</text><path class="cl" d="M681,372V509M698,372V509"/>
<g id="p4-nac5-c1" class="n"><rect x="650.5" y="377.5" width="26" height="15"/><text x="663.5" y="389">c1:C</text></g>
<g id="p4-nac5-r" class="n"><rect x="653" y="405.5" width="21" height="15"/><text x="663.5" y="417">r:R</text></g>
<g id="p4-nac5-c2" class="n"><rect x="650.5" y="434.5" width="26" height="15"/><text x="663.5" y="446">c2:C</text></g>
<g id="p4-nac5-a" class="n"><rect x="653" y="463.5" width="21" height="15"/><text x="663.5" y="475">a:A</text></g>
<g id="p4-nac5-T" class="n"><rect x="706" y="377.5" width="18" height="15"/><text x="715" y="389">:T</text></g>
<g id="p4-nac5-F" class="n"><rect x="706" y="405.5" width="18" height="15"/><text x="715" y="417">:F</text></g>
<g id="p4-nac5-tT" class="n"><rect x="706" y="434.5" width="18" height="15"/><text x="715" y="446">t:T</text></g>
<g id="p4-nac5-oCo" class="n"><rect x="700" y="463.5" width="30" height="15"/><text x="715" y="475">o:Co</text></g>
<g id="p4-nac5-Co" class="n"><rect x="704" y="488.5" width="22" height="15"/><text x="715" y="500">:Co</text></g>
</g>

<g id="p4-L"><rect class="sp" x="748" y="395" width="90" height="114" rx="5"/><text class="lb" x="750" y="393">L</text><path class="cl" d="M782.5,395V509M799,395V509"/>
<g id="p4-L-c1" class="n"><rect x="750.5" y="399.5" width="26" height="15"/><text x="763.5" y="411">c1:C</text></g>
<g id="p4-L-r" class="n"><rect x="753" y="428.5" width="21" height="15"/><text x="763.5" y="440">r:R</text></g>
<g id="p4-L-c2" class="n"><rect x="750.5" y="457.5" width="26" height="15"/><text x="763.5" y="469">c2:C</text></g>
<g id="p4-L-a" class="n"><rect x="753" y="486.5" width="21" height="15"/><text x="763.5" y="498">a:A</text></g>
<g id="p4-L-tT" class="n"><rect x="810" y="457.5" width="17" height="15"/><text x="818.5" y="469">t:T</text></g>
<g id="p4-L-oCo" class="n"><rect x="803.5" y="486.5" width="30" height="15"/><text x="818.5" y="498">o:Co</text></g>
</g>

<g id="p4-R"><rect class="sp" x="842" y="372" width="96" height="137" rx="5"/><text class="lb" x="844" y="370">R</text><path class="cl" d="M876.5,372V509M893,372V509"/>
<g id="p4-R-c1" class="n"><rect x="847" y="377.5" width="26" height="15"/><text x="860" y="389">c1:C</text></g>
<g id="p4-R-r" class="n"><rect x="849.5" y="405.5" width="21" height="15"/><text x="860" y="417">r:R</text></g>
<g id="p4-R-c2" class="n"><rect x="847" y="434.5" width="26" height="15"/><text x="860" y="446">c2:C</text></g>
<g id="p4-R-a" class="n"><rect x="849.5" y="463.5" width="21" height="15"/><text x="860" y="475">a:A</text></g>
<g id="p4-R-T" class="n"><rect x="901" y="377.5" width="18" height="15"/><text x="910" y="389">:T</text></g>
<g id="p4-R-F" class="n"><rect x="901" y="405.5" width="18" height="15"/><text x="910" y="417">:F</text></g>
<g id="p4-R-tT" class="n"><rect x="901" y="434.5" width="18" height="15"/><text x="910" y="446">t:T</text></g>
<g id="p4-R-oCo" class="n"><rect x="895" y="463.5" width="30" height="15"/><text x="910" y="475">o:Co</text></g>
<g id="p4-R-Co" class="n"><rect x="899" y="488.5" width="22" height="15"/><text x="910" y="500">:Co</text></g>
</g>

<g id="p4-connectors">
<path class="e" d="M300,414.5V428.5"/><path class="e" d="M300,443.5V457.5"/><path class="e" d="M300,486.5V472.5"/><path class="e" d="M287,465H279V377H288"/>
<path class="e" d="M350,486.5V472.5"/>
<circle class="dot" cx="325" cy="465" r="4"/><path class="e" d="M321,465H313"/><path class="e" d="M329,465H341.5"/>
<circle class="dot" cx="325" cy="494" r="4"/><path class="e" d="M321,494H310.5"/><path class="e" d="M329,494H335"/>
<path class="e" d="M390.5,399.5V384.5"/><path class="e" d="M390.5,414.5V428.5"/><path class="e" d="M390.5,443.5V457.5"/><path class="e" d="M390.5,486.5V472.5"/>
<path class="e" d="M441,486.5V472.5"/>
<circle class="dot" cx="416.75" cy="465" r="4"/><path class="e" d="M412.75,465H403.5"/><path class="e" d="M420.75,465H432.5"/>
<circle class="dot" cx="416.75" cy="494" r="4"/><path class="e" d="M412.75,494H401"/><path class="e" d="M420.75,494H426"/>
<path class="e" d="M481,414.5V428.5"/><path class="e" d="M481,443.5V457.5"/><path class="e" d="M481,486.5V472.5"/>
<path class="e" d="M532,486.5V472.5"/>
<circle class="dot" cx="507.25" cy="407" r="4"/><path class="e" d="M503.25,407H494"/><path class="e" d="M511.25,407H525"/>
<circle class="dot" cx="507.25" cy="465" r="4"/><path class="e" d="M503.25,465H494"/><path class="e" d="M511.25,465H523.5"/>
<circle class="dot" cx="507.25" cy="494" r="4"/><path class="e" d="M503.25,494H491.5"/><path class="e" d="M511.25,494H517"/>
<path class="e" d="M573,414.5V428.5"/><path class="e" d="M573,443.5V457.5"/><path class="e" d="M573,486.5V472.5"/>
<path class="e" d="M624,414.5V428.5"/><path class="e" d="M624,443.5V457.5"/><path class="e" d="M624,486.5V472.5"/>
<circle class="dot" cx="599.25" cy="407" r="4"/><path class="e" d="M595.25,407H586"/><path class="e" d="M603.25,407H617"/>
<circle class="dot" cx="599.25" cy="465" r="4"/><path class="e" d="M595.25,465H586"/><path class="e" d="M603.25,465H615.5"/>
<circle class="dot" cx="599.25" cy="494" r="4"/><path class="e" d="M595.25,494H583.5"/><path class="e" d="M603.25,494H609"/>
<path class="e" d="M663.5,392.5V405.5"/><path class="e" d="M663.5,420.5V434.5"/><path class="e" d="M663.5,463.5V449.5"/>
<path class="e" d="M715,392.5V405.5"/><path class="e" d="M715,420.5V434.5"/><path class="e" d="M715,463.5V449.5"/>
<path class="e" d="M726,493H733V413H724"/><path class="e" d="M726,499H739V385H724"/>
<circle class="dot" cx="689.5" cy="385" r="4"/><path class="e" d="M685.5,385H676.5"/><path class="e" d="M693.5,385H706"/>
<circle class="dot" cx="689.5" cy="442" r="4"/><path class="e" d="M685.5,442H676.5"/><path class="e" d="M693.5,442H706"/>
<circle class="dot" cx="689.5" cy="471" r="4"/><path class="e" d="M685.5,471H674"/><path class="e" d="M693.5,471H700"/>
<circle class="dot" cx="689.5" cy="496" r="4"/><path class="d" d="M693.5,496H704"/><path class="d" d="M685.5,496Q666,497 662,479"/>
<path class="e" d="M763.5,414.5V428.5"/><path class="e" d="M763.5,443.5V457.5"/><path class="e" d="M763.5,486.5V472.5"/>
<path class="e" d="M818.5,486.5V472.5"/>
<circle class="dot" cx="790.75" cy="465" r="4"/><path class="e" d="M786.75,465H776.5"/><path class="e" d="M794.75,465H810"/>
<circle class="dot" cx="790.75" cy="494" r="4"/><path class="e" d="M786.75,494H774"/><path class="e" d="M794.75,494H803.5"/>
<path class="e" d="M860,392.5V405.5"/><path class="e" d="M860,420.5V434.5"/><path class="e" d="M860,463.5V449.5"/>
<path class="e" d="M910,392.5V405.5"/><path class="e" d="M910,420.5V434.5"/><path class="e" d="M910,463.5V449.5"/>
<path class="e" d="M921,493H928V413H919"/><path class="e" d="M921,499H933.5V385H919"/>
<circle class="dot" cx="884.75" cy="385" r="4"/><path class="e" d="M880.75,385H873"/><path class="e" d="M888.75,385H901"/>
<circle class="dot" cx="884.75" cy="442" r="4"/><path class="e" d="M880.75,442H873"/><path class="e" d="M888.75,442H901"/>
<circle class="dot" cx="884.75" cy="471" r="4"/><path class="e" d="M880.75,471H870.5"/><path class="e" d="M888.75,471H895"/>
<circle class="dot" cx="884.75" cy="496" r="4"/><path class="d" d="M888.75,496H899"/><path class="d" d="M880.75,496Q862,497 858,479"/>
</g>
</g>
</svg>
